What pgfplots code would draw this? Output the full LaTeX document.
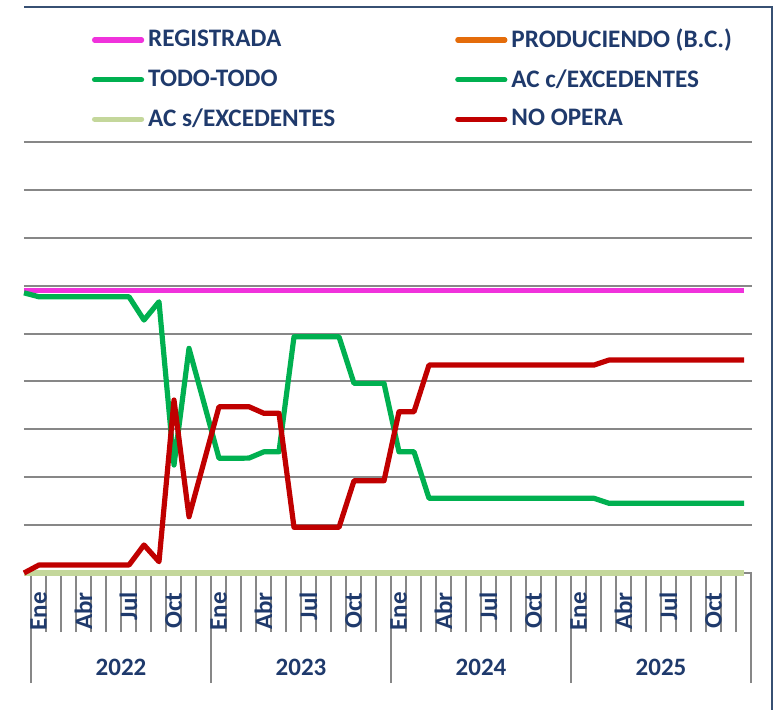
\documentclass[border=0pt]{standalone}
\usepackage{fontspec}
\setmainfont{Carlito}
\usepackage{pgfplots}
\pgfplotsset{compat=1.18}
\usepackage{pgfplotstable}

\definecolor{navy}{RGB}{31,58,108}
\definecolor{regpink}{RGB}{240,50,220}
\definecolor{prodorange}{RGB}{228,108,10}
\definecolor{todogreen}{RGB}{0,176,80}
\definecolor{aclight}{RGB}{196,215,155}
\definecolor{nored}{RGB}{192,0,0}
\definecolor{gridgray}{RGB}{135,135,135}
\definecolor{framecol}{RGB}{55,80,115}

\pgfplotstableread{
i reg prod todo acc acs noop
0 5.900 0 5.850 0 0 0.000
1 5.900 0 5.768 0 0 0.167
2 5.900 0 5.768 0 0 0.167
3 5.900 0 5.768 0 0 0.167
4 5.900 0 5.768 0 0 0.167
5 5.900 0 5.768 0 0 0.167
6 5.900 0 5.768 0 0 0.167
7 5.900 0 5.768 0 0 0.167
8 5.900 0 5.282 0 0 0.585
9 5.900 0 5.664 0 0 0.236
10 5.900 0 2.255 0 0 3.612
11 5.900 0 4.691 0 0 1.175
12 5.900 0 3.549 0 0 2.324
13 5.900 0 2.395 0 0 3.472
14 5.900 0 2.395 0 0 3.472
15 5.900 0 2.400 0 0 3.472
16 5.900 0 2.532 0 0 3.334
17 5.900 0 2.532 0 0 3.334
18 5.900 0 4.933 0 0 0.954
19 5.900 0 4.933 0 0 0.954
20 5.900 0 4.933 0 0 0.954
21 5.900 0 4.933 0 0 0.954
22 5.900 0 3.960 0 0 1.927
23 5.900 0 3.960 0 0 1.927
24 5.900 0 3.960 0 0 1.927
25 5.900 0 2.532 0 0 3.367
26 5.900 0 2.532 0 0 3.367
27 5.900 0 1.560 0 0 4.342
28 5.900 0 1.560 0 0 4.342
29 5.900 0 1.560 0 0 4.342
30 5.900 0 1.560 0 0 4.342
31 5.900 0 1.560 0 0 4.342
32 5.900 0 1.560 0 0 4.342
33 5.900 0 1.560 0 0 4.342
34 5.900 0 1.560 0 0 4.342
35 5.900 0 1.560 0 0 4.342
36 5.900 0 1.560 0 0 4.342
37 5.900 0 1.560 0 0 4.342
38 5.900 0 1.560 0 0 4.342
39 5.900 0 1.455 0 0 4.447
40 5.900 0 1.455 0 0 4.447
41 5.900 0 1.455 0 0 4.447
42 5.900 0 1.455 0 0 4.447
43 5.900 0 1.455 0 0 4.447
44 5.900 0 1.455 0 0 4.447
45 5.900 0 1.455 0 0 4.447
46 5.900 0 1.455 0 0 4.447
47 5.900 0 1.455 0 0 4.447
48 5.900 0 1.455 0 0 4.447
}\data

\tikzset{
  mlab/.style={yshift=-9.5pt, rotate=90, anchor=east, inner sep=0pt, text=navy,
      font=\fontsize{12.5}{14}\selectfont\bfseries},
  ylab/.style={anchor=center, inner sep=0pt, text=navy,
    font=\fontsize{12.5}{14}\selectfont\bfseries, yshift=-47pt}
}

\begin{document}
\begin{tikzpicture}
\useasboundingbox (0pt,0pt) rectangle (387.5pt,356.5pt);
\draw[framecol, line width=1pt] (12pt,353pt) -- (386pt,353pt) -- (386pt,1.5pt);
\begin{axis}[
  at={(12pt,70pt)}, anchor=south west,
  scale only axis, width=364pt, height=215.5pt,
  xmin=0, xmax=48.533, ymin=0, ymax=9,
  clip=false,
  axis line style={draw=none},
  ytick={0,1,...,9}, yticklabels={}, ytick style={draw=none},
  ymajorgrids, major grid style={gridgray, line width=1pt},
  xtick={0.4667,1.4667,...,48.5}, xticklabels={},
  xtick pos=bottom, tick align=outside,
  major tick length=29.5pt,
  xtick style={gridgray, line width=1pt},
  extra x ticks={0.4667,12.4667,24.4667,36.4667,48.4667},
  extra x tick labels={},
  extra x tick style={major tick length=55pt, grid=none},
  legend columns=2,
  legend cell align=left,
  legend style={at={(rel axis cs:0.0934,1.271)}, anchor=north west,
    draw=none, fill=none, inner sep=0pt, outer sep=0pt,
    row sep=5.3pt,
    font=\fontsize{12.6}{14}\selectfont\bfseries, text=navy,
    /tikz/every odd column/.append style={column sep=0pt},
    /tikz/every even column/.append style={column sep=58pt}},
  legend image code/.code={\draw[#1, line width=2.6pt, line cap=round] (0pt,0pt) -- (23.5pt,0pt);},
  every axis plot/.append style={line width=2.6pt, line join=round, mark=none},
]
\addplot[regpink] table[x=i,y=reg] {\data};
\addlegendentry{REGISTRADA}
\addplot[prodorange] table[x=i,y=prod] {\data};
\addlegendentry{PRODUCIENDO (B.C.)}
\addplot[todogreen] table[x=i,y=acc] {\data};
\addlegendentry{TODO-TODO}
\addplot[todogreen] table[x=i,y=todo] {\data};
\addlegendentry{AC c/EXCEDENTES}
\addplot[aclight] table[x=i,y=acs] {\data};
\addlegendentry{AC s/EXCEDENTES}
\addplot[nored] table[x=i,y=noop] {\data};
\addlegendentry{NO OPERA}

\node[mlab] at (axis cs:0.9667,0) {Ene};
\node[mlab] at (axis cs:3.9667,0) {Abr};
\node[mlab] at (axis cs:6.9667,0) {Jul};
\node[mlab] at (axis cs:9.9667,0) {Oct};
\node[mlab] at (axis cs:12.9667,0) {Ene};
\node[mlab] at (axis cs:15.9667,0) {Abr};
\node[mlab] at (axis cs:18.9667,0) {Jul};
\node[mlab] at (axis cs:21.9667,0) {Oct};
\node[mlab] at (axis cs:24.9667,0) {Ene};
\node[mlab] at (axis cs:27.9667,0) {Abr};
\node[mlab] at (axis cs:30.9667,0) {Jul};
\node[mlab] at (axis cs:33.9667,0) {Oct};
\node[mlab] at (axis cs:36.9667,0) {Ene};
\node[mlab] at (axis cs:39.9667,0) {Abr};
\node[mlab] at (axis cs:42.9667,0) {Jul};
\node[mlab] at (axis cs:45.9667,0) {Oct};
\node[ylab] at (axis cs:6.4667,0) {2022};
\node[ylab] at (axis cs:18.4667,0) {2023};
\node[ylab] at (axis cs:30.4667,0) {2024};
\node[ylab] at (axis cs:42.4667,0) {2025};
\end{axis}
\end{tikzpicture}
\end{document}
